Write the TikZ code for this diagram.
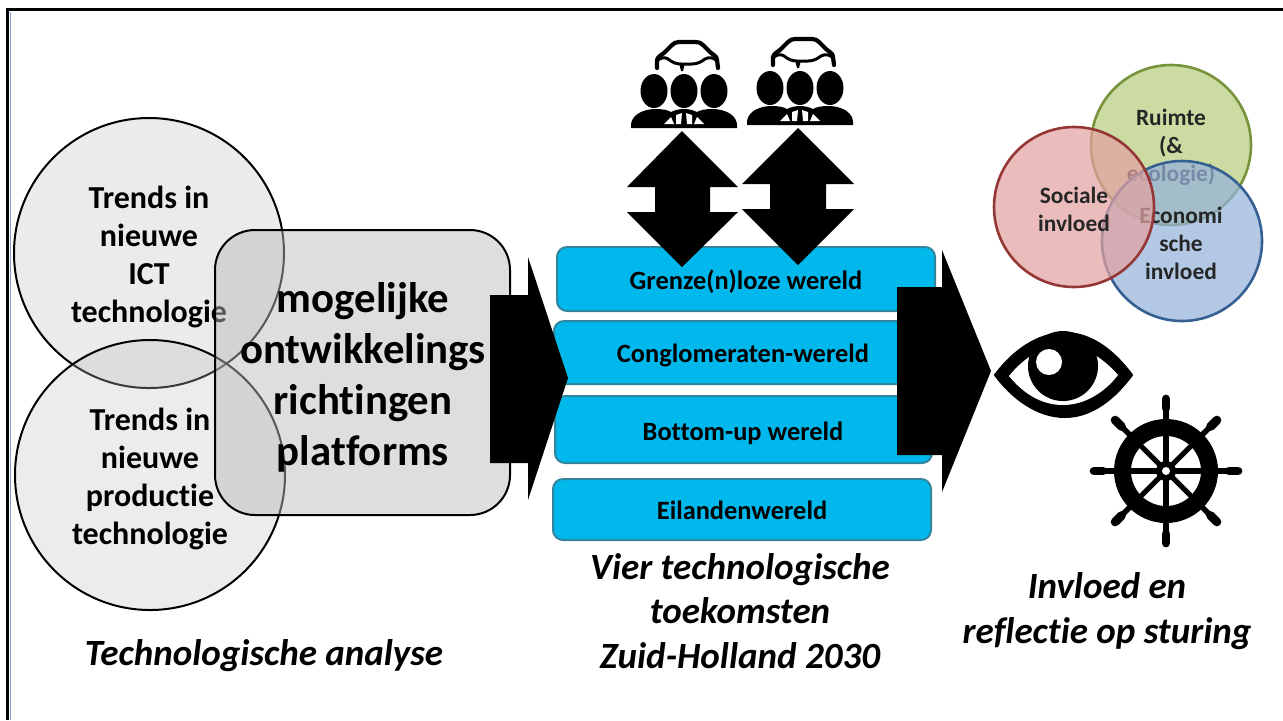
\documentclass[tikz,border=0pt]{standalone}
\usepackage{fontspec}
\setmainfont[Ligatures=NoCommon]{Carlito}
\definecolor{worldfill}{HTML}{00B8EC}
\definecolor{worldedge}{HTML}{31859C}
\definecolor{vgreen}{HTML}{B8CD7E}
\definecolor{vgreenedge}{HTML}{77933C}
\definecolor{vred}{HTML}{E2A2A2}
\definecolor{vrededge}{HTML}{953735}
\definecolor{vblue}{HTML}{94B3D9}
\definecolor{vblueedge}{HTML}{376092}
\definecolor{frameblue}{HTML}{7F9FCF}
\begin{document}
\begin{tikzpicture}[x=0.5pt,y=-0.5pt,
  lbl/.style={align=center,font=\bfseries\fontsize{16}{19}\selectfont,text=black,inner sep=0pt},
  biglbl/.style={align=center,font=\bfseries\fontsize{21.4}{25.5}\selectfont,text=black,inner sep=0pt},
  caption/.style={align=center,font=\bfseries\itshape\fontsize{18.5}{22.2}\selectfont,text=black,inner sep=0pt},
  venn/.style={align=center,font=\bfseries\fontsize{11.7}{14}\selectfont,text=black!85,inner sep=0pt},
  world/.style={draw=worldedge,line width=1pt,fill=worldfill,rounded corners=5pt},
  worldtxt/.style={font=\bfseries\fontsize{13.2}{15}\selectfont,text=black,inner sep=0pt},
  vcircle/.style={circle,minimum size=80pt,inner sep=0pt,line width=1.3pt,fill opacity=.72},
  people/.pic={
    \fill (-30,-36) ellipse [x radius=13.5,y radius=17];
    \fill (0,-36) ellipse [x radius=13.5,y radius=17];
    \fill (30,-36) ellipse [x radius=13.5,y radius=17];
    \fill (-53,-2) .. controls (-53,-10) and (-44,-18) .. (-28,-18)
       .. controls (-22,-18) and (-16,-17) .. (-13,-15)
       .. controls (-5,-19) and (5,-19) .. (13,-15)
       .. controls (16,-17) and (22,-18) .. (28,-18)
       .. controls (44,-18) and (53,-10) .. (53,-2) -- (53,1) -- (-53,1) -- cycle;
    \fill[white] (-20,-3) -- (-10,-3) -- (-13,-10) -- cycle;
    \fill[white] (-8,-3) -- (-3,-3) -- (-2,-14) -- (-8,-12) -- cycle;
    \fill[white] (3,-3) -- (8,-3) -- (8,-12) -- (2,-14) -- cycle;
    \fill[white] (10,-3) -- (20,-3) -- (13,-10) -- cycle;
    \draw[line width=2.1pt,line cap=round,line join=round]
       (-27,-59) -- (-27,-67) .. controls (-26,-71) and (-22,-72) .. (-19,-75)
       -- (-12,-82) .. controls (-10,-84) and (-8,-85) .. (-5,-85)
       -- (12,-85) .. controls (15,-85) and (17,-84) .. (19,-82)
       -- (26,-75) .. controls (29,-72) and (33,-71) .. (33,-67) -- (34,-59);
    \draw[line width=1.5pt,line join=round]
       (-27,-66) .. controls (-23,-70) and (-19,-70) .. (-16,-68)
       .. controls (-11,-64) and (-7,-63) .. (-3,-63)
       -- (8,-63) .. controls (13,-63) and (17,-65) .. (21,-68)
       .. controls (25,-70) and (29,-70) .. (33,-66);
    \fill (-5,-64) -- (1,-64) -- (-1,-56) -- (-3,-56) -- cycle;
  }]
\useasboundingbox (0,0) rectangle (1283,720);
% frame
\draw[line width=0.7pt,frameblue] (10.5,720) -- (10.5,12);
\draw[line width=1.6pt,black] (7.5,720) -- (7.5,9.5) -- (1283,9.5);

% left circles
\node[draw=black,line width=1pt,fill=black!8,circle,minimum size=135pt,inner sep=0pt] (c1) at (149,253) {};
\node[lbl] (t1) at (149,257) {Trends in\\nieuwe\\ICT\\technologie};
\node[draw=black,line width=1pt,fill=black!25,fill opacity=.3,circle,minimum size=135pt,inner sep=0pt] (c2) at (150,475) {};
\node[lbl] (t2) at (150,479) {Trends in\\nieuwe\\productie\\technologie};
\node[draw=black,line width=1pt,fill=black!27,fill opacity=.48,rounded corners=20pt,minimum width=147.5pt,minimum height=142.5pt,inner sep=0pt] (box) at (362.5,372.5) {};
\node[biglbl] (t3) at (363,377) {mogelijke\\ontwikkelings\\richtingen\\platforms};

% worlds
\node[world,minimum width=189pt,minimum height=32pt,inner sep=0pt] (w1) at (746,279) {};
\node[world,minimum width=189pt,minimum height=31.5pt,inner sep=0pt] (w2) at (743,352.5) {};
\node[world,minimum width=188.5pt,minimum height=33.5pt,inner sep=0pt] (w3) at (743.5,429.5) {};
\node[world,minimum width=189pt,minimum height=30.5pt,inner sep=0pt] (w4) at (742,509.5) {};

% big arrows
\fill (490,295) -- (528,295) -- (528,257) -- (568,378) -- (528,500) -- (528,463) -- (490,463) -- cycle;
\fill (897,287) -- (942,287) -- (942,250) -- (991,371) -- (942,492) -- (942,455) -- (897,455) -- cycle;
% double arrows
\fill (682,131) -- (738,187) -- (710,187) -- (710,212) -- (738,212) -- (682,267) -- (627,212) -- (655,212) -- (655,187) -- (627,187) -- cycle;
\fill (798,128) -- (854,184) -- (826,184) -- (826,209) -- (854,209) -- (798,265) -- (742,209) -- (770,209) -- (770,184) -- (742,184) -- cycle;

\node[worldtxt] (wt1) at (746,282) {Grenze(n)loze wereld};
\node[worldtxt] (wt2) at (743,355) {Conglomeraten-wereld};
\node[worldtxt] (wt3) at (743,433) {Bottom-up wereld};
\node[worldtxt] (wt4) at (742,510) {Eilandenwereld};

% people
\pic at (684,127) {people};
\pic at (800,124) {people};

% venn
\node[vcircle,draw=vgreenedge,fill=vgreen] (ruimte) at (1171,145) {};
\node[venn] (tr) at (1171,147) {Ruimte\\(\&\\ecologie)};
\node[vcircle,draw=vblueedge,fill=vblue] (econ) at (1182,241) {};
\node[venn] (te) at (1181,243) {Economi\\sche\\invloed};
\node[vcircle,draw=vrededge,fill=vred] (soc) at (1074,207) {};
\node[venn] (ts) at (1074,209) {Sociale\\invloed};

% eye
\filldraw[line width=1pt,line join=round] (995,375) .. controls (1012,352) and (1037,333) .. (1065,333)
   .. controls (1092,333) and (1115,352) .. (1132,375)
   .. controls (1115,398) and (1092,417) .. (1065,417)
   .. controls (1037,417) and (1012,398) .. cycle;
\fill[white] (1009,376) .. controls (1022,360) and (1040,346) .. (1063,345)
   .. controls (1085,345) and (1105,360) .. (1118,375)
   .. controls (1105,392) and (1085,405) .. (1063,405)
   .. controls (1040,405) and (1022,392) .. cycle;
\fill (1063,366) circle [radius=35];
\fill[white] (1049,362) circle [radius=13];

% wheel
\foreach \a in {0,45,...,315}{
  \draw[line width=2.8pt] (1166,471) ++(\a:48) -- ++(\a:18);
  \draw[line width=4.4pt,line cap=round] (1166,471) ++(\a:63) -- ++(\a:9);
}
\fill[even odd rule] (1166,471) circle [radius=52] circle [radius=35];
\foreach \a in {0,45,...,315}{
  \draw[line width=2.6pt] (1166,471) -- ++(\a:40);
}
\fill (1166,471) circle [radius=10];
\fill[white] (1166,471) circle [radius=4];

% captions
\node[caption] (cap1) at (264,656) {Technologische analyse};
\node[caption] (cap2) at (740,611) {Vier technologische\\toekomsten\\Zuid-Holland 2030};
\node[caption] (cap3) at (1107,611) {Invloed en\\reflectie op sturing};
\end{tikzpicture}
\end{document}
